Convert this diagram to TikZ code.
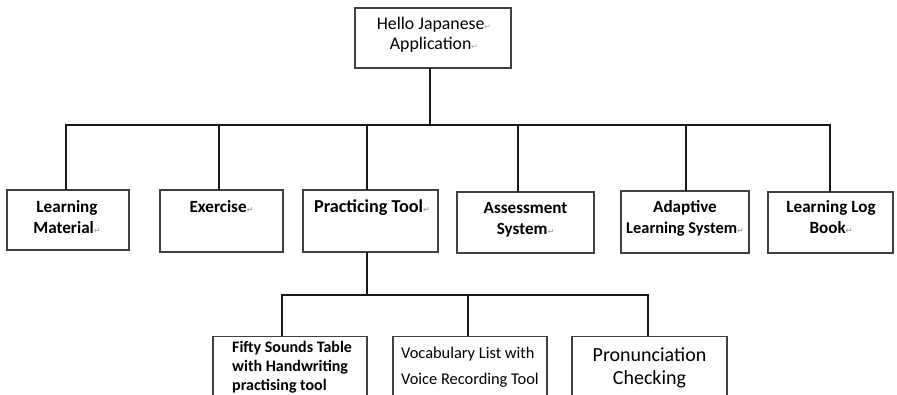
\documentclass[tikz,border=0pt]{standalone}
\usepackage{fontspec}
\setmainfont{Carlito}
\newfontfamily\symfont{DejaVu Sans}
% Word-style paragraph mark after a line
\newcommand\retmark{{\symfont\fontsize{8}{8}\selectfont\color{black!35}\char"21B5}}
\tikzset{
  box/.style={draw=black!75, line width=1.2pt, rectangle, inner sep=0pt},
  link/.style={line width=2.2pt, black!90},
  % label nodes are placed by the baseline of their last line
  lbl/.style={inner sep=0pt, align=center, anchor=base},
  lblL/.style={inner sep=0pt, align=left, anchor=base west},
  head/.style={font=\fontsize{17.8}{20}\selectfont},
  cat/.style={font=\bfseries\fontsize{17.1}{21}\selectfont},
  subb/.style={font=\bfseries\fontsize{16}{19}\selectfont},
  subr/.style={font=\fontsize{16.4}{25}\selectfont},
  subl/.style={font=\fontsize{20}{23}\selectfont},
}
\begin{document}
\begin{tikzpicture}[x=1pt,y=-1pt]
\useasboundingbox (0,0) rectangle (897,395);
\clip (0,0) rectangle (897,395);

% root
\node[box, minimum width=156pt, minimum height=60pt] (root) at (433,38) {};
\node[lbl, head] (rootT) at (434,50) {Hello Japanese\retmark\\Application\retmark};

% first level
\node[box, minimum width=122pt, minimum height=60pt] (lm) at (68,220) {};
\node[box, minimum width=123pt, minimum height=62pt] (ex) at (221.5,221) {};
\node[box, minimum width=135pt, minimum height=62pt] (pt) at (370.5,221) {};
\node[box, minimum width=137pt, minimum height=61pt] (as) at (525.5,222.5) {};
\node[box, minimum width=128pt, minimum height=62pt] (al) at (685,222) {};
\node[box, minimum width=125pt, minimum height=61pt] (lb) at (830.5,222.5) {};

\node[lbl, cat] (lmT) at (67,234) {Learning\\Material\retmark};
\node[lbl, cat] (exT) at (221.5,213) {Exercise\retmark};
\node[lbl, cat, font=\bfseries\fontsize{18.2}{21}\selectfont] (ptT) at (372,213) {Practicing Tool\retmark};
\node[lbl, cat] (asT) at (525.5,235) {Assessment\\System\retmark};
\node[lbl, cat] (alT) at (685,234) {Adaptive\\{\fontsize{16.4}{21}\selectfont Learning System}\retmark};
\node[lbl, cat] (lbT) at (831,234) {Learning Log\\Book\retmark};

% second level
\node[box, minimum width=154pt, minimum height=80pt, anchor=north] (fs) at (290,336) {};
\node[box, minimum width=154pt, minimum height=80pt, anchor=north] (vl) at (470,336) {};
\node[box, minimum width=155pt, minimum height=80pt, anchor=north] (pc) at (649.5,336) {};

\node[lblL, subb] (fsT) at (232,390) {Fifty Sounds Table\\with Handwriting\\practising tool};
\node[lblL, subr] (vlT) at (401,384) {Vocabulary List with\\Voice Recording Tool};
\node[lbl, subl] (pcT) at (649.5,384) {Pronunciation\\Checking};

% connectors: root to first level
\coordinate (bar1) at (430,125);
\draw[link] (430,68) -- (bar1);
\draw[link] (66,190) |- (830,125) -- (830,192);
\draw[link] (219,125) -- (219,190);
\draw[link] (367,125) -- (367,190);
\draw[link] (518,125) -- (518,192);
\draw[link] (686,125) -- (686,191);

% connectors: practicing tool to second level
\draw[link] (367,252) -- (367,295);
\draw[link] (282,336) |- (648,295) -- (648,336);
\draw[link] (468,295) -- (468,336);
\end{tikzpicture}
\end{document}
